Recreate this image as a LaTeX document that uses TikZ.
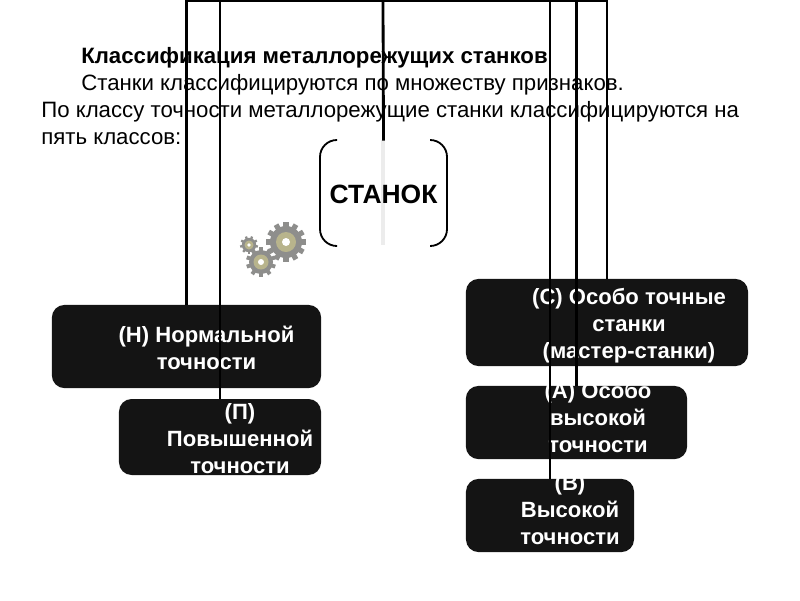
\documentclass[tikz,border=0pt]{standalone}
\usepackage{fontspec}
\setmainfont{Liberation Sans}

\definecolor{boxdark}{HTML}{141414}
\definecolor{gearsteel}{HTML}{8E8E8C}
\definecolor{gearcore}{HTML}{B8B48C}

\tikzset{
	classbox/.style={fill=boxdark,rounded corners=9pt,inner sep=0pt},
	classlabel/.style={text=white,font=\fontsize{15.7}{19.1}\selectfont\bfseries,align=center},
	intro/.style={anchor=base west,inner sep=0pt,font=\fontsize{15.8}{19}\selectfont},
	link/.style={line width=2pt,black},
	bracket/.style={line width=1.3pt,rounded corners=12pt}
}

% one gear: x, y, radius, number of teeth
\newcommand{\gearwheel}[4]{
	\pgfmathsetmacro{\gearstep}{360/#4}
	\foreach \k in {1,...,#4}
	\fill[gearsteel,shift={(#1,#2)},rotate=\k*\gearstep] (-0.13*#3,0) rectangle (0.13*#3,#3);
	\fill[gearsteel] (#1,#2) circle (0.8*#3*0.025cm);
	\fill[gearcore] (#1,#2) circle (0.5*#3*0.025cm);
	\fill[white] (#1,#2) circle (0.2*#3*0.025cm);
}

\begin{document}
\begin{tikzpicture}[x=0.025cm,y=-0.025cm]
	
	\useasboundingbox (0,0) rectangle (800,600);
	
	% Title
	\node[intro] (title) at (81,63) {\bfseries Классификация металлорежущих станков};
	\node[intro] (introa) at (81,90) {Станки классифицируются по множеству признаков.};
	\node[intro] (introb) at (41,117) {По классу точности металлорежущие станки классифицируются на};
	\node[intro] (introc) at (41,144) {пять классов:};
	
	% Root
	\draw[line width=3pt,gray!15] (383,140)--(383,245);
	\node[minimum width=3.18cm,minimum height=2.65cm,inner sep=0pt,font=\fontsize{18.8}{22}\selectfont\bfseries] (stanok) at (383.5,194) {СТАНОК};
	\draw[bracket] (337,140)--(320,140)--(320,246)--(337,246);
	\draw[bracket] (430,140)--(447,140)--(447,246)--(430,246);
	
	% Gears
	\gearwheel{249}{245}{9}{9}
	\gearwheel{261}{262}{15}{10}
	\gearwheel{286}{242}{20}{12}
	
	% Boxes
	\node[classbox,minimum width=6.73cm,minimum height=2.08cm] (boxN) at (186.5,346.5) {};
	\node[classbox,minimum width=5.05cm,minimum height=1.9cm] (boxP) at (220,437) {};
	\node[classbox,minimum width=7.05cm,minimum height=2.18cm] (boxS) at (607,322.5) {};
	\node[classbox,minimum width=5.53cm,minimum height=1.83cm] (boxA) at (576.5,422.5) {};
	\node[classbox,minimum width=4.2cm,minimum height=1.83cm] (boxV) at (550,515.5) {};
	
	% Labels
	\node[classlabel] (labelN) at (206.5,348) {(Н) Нормальной\\точности};
	\node[classlabel] (labelP) at (240,438.5) {(П)\\Повышенной\\точности};
	\node[classlabel] (labelS) at (629,326) {(С) Особо точные\\станки\\(мастер-станки)};
	\node[classlabel] (labelA) at (598,417.5) {(А) Особо\\высокой\\точности};
	\node[classlabel] (labelV) at (570,509.5) {(В)\\Высокой\\точности};
	
	% Links
	\coordinate (bus) at (383,1);
	\draw[link] (bus)--(stanok.north);
	\draw[link] (bus) -| (boxN.north);
	\draw[link] (bus) -| (boxP.north);
	\draw[link] (bus) -| (boxV.north);
	\draw[link] (bus) -| (boxA.north);
	\draw[link] (bus) -| (boxS.north);
	
\end{tikzpicture}
\end{document}
